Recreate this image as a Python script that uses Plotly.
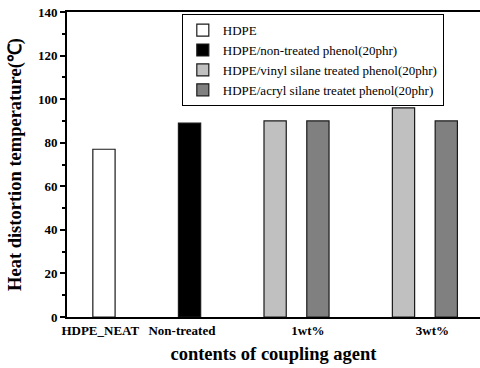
import plotly.graph_objects as go

# ---- data ----
series_names = [
    "HDPE",
    "HDPE/non-treated phenol(20phr)",
    "HDPE/vinyl silane treated phenol(20phr)",
    "HDPE/acryl silane treatet phenol(20phr)",
]
# x position (data units on numeric axis) and heat distortion temperature (℃)
hdpe_x = [1]
hdpe_y = [77]
nontreated_x = [2]
nontreated_y = [89]
vinyl_x = [3, 4.5]
vinyl_y = [90, 96]
acryl_x = [3.5, 5]
acryl_y = [90, 90]

tick_labels = ["HDPE_NEAT", "Non-treated", "1wt%", "3wt%"]
y_ticks = [0, 20, 40, 60, 80, 100, 120, 140]

# ---- styles / layout ----
tick_label_pos = [0.957, 1.911, 3.383, 4.838]
fills = ["#ffffff", "#000000", "#c0c0c0", "#808080"]
serif = "Liberation Serif, Times New Roman, serif"
bar_w = 0.26

fig = go.Figure()
for name, xs, ys, col in zip(
    series_names,
    [hdpe_x, nontreated_x, vinyl_x, acryl_x],
    [hdpe_y, nontreated_y, vinyl_y, acryl_y],
    fills,
):
    fig.add_trace(go.Bar(
        x=xs, y=ys, name=name, width=bar_w,
        marker=dict(color=col, line=dict(color="#1a1a1a", width=1.2)),
    ))

fig.update_layout(
    width=480, height=368,
    margin=dict(l=67, r=0, t=12, b=51),
    paper_bgcolor="white", plot_bgcolor="white",
    barmode="overlay",
    font=dict(family=serif, color="black"),
    legend=dict(
        x=0.278, y=0.993, xanchor="left", yanchor="top",
        bordercolor="black", borderwidth=1,
        font=dict(family=serif, size=13, color="black"),
        bgcolor="white", traceorder="normal",
    ),
    showlegend=True,
)
fig.update_xaxes(
    range=[0.568, 5.394],
    tickmode="array", tickvals=tick_label_pos, ticktext=tick_labels,
    ticks="", showgrid=False, zeroline=False,
    showline=True, linecolor="black", linewidth=2, mirror=True,
    tickfont=dict(family=serif, size=13, color="black", weight="bold"),
    title=dict(text="contents of coupling agent", standoff=10,
               font=dict(family=serif, size=18.5, color="black", weight="bold")),
)
fig.update_yaxes(
    range=[0, 140],
    tickmode="array", tickvals=y_ticks,
    ticks="outside", ticklen=5, tickwidth=2, tickcolor="black",
    minor=dict(ticks="outside", ticklen=3, tickwidth=1.5, tickcolor="black", dtick=10),
    showgrid=False, zeroline=False,
    showline=True, linecolor="black", linewidth=2, mirror=False,
    tickfont=dict(family=serif, size=13, color="black", weight="bold"),
    title=dict(text="Heat distortion temperature(℃)", standoff=11,
               font=dict(family=serif, size=18.5, color="black", weight="bold")),
)

fig.write_html("out.html")
